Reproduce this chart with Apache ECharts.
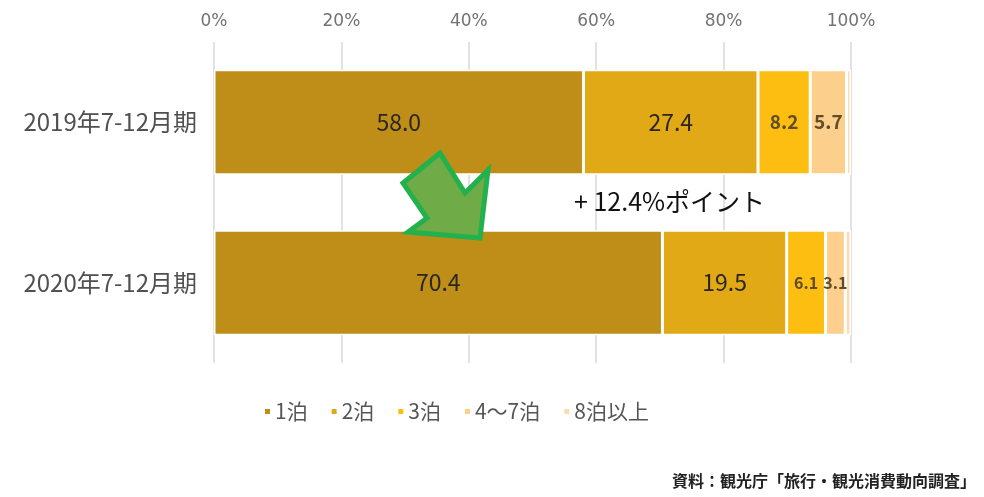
<!DOCTYPE html>
<html>
<head>
<meta charset="utf-8">
<script src="https://cdn.jsdelivr.net/npm/echarts@6/dist/echarts.min.js"></script>
<style>
  html, body { margin: 0; padding: 0; background: #fff; }
  #chart { width: 984px; height: 497px; }
</style>
</head>
<body>
<div id="chart"></div>
<script>
// Periods (top to bottom)
const periods = ['2019年7-12月期', '2020年7-12月期'];
// Length-of-stay shares (%)
const stay1 = [58.0, 70.4];
const stay2 = [27.4, 19.5];
const stay3 = [8.2, 6.1];
const stay4to7 = [5.7, 3.1];
const stay8plus = [0.7, 0.9];
const seriesNames = ['1泊', '2泊', '3泊', '4～7泊', '8泊以上'];
const xTicks = [0, 20, 40, 60, 80, 100];
const changeNote = '+ 12.4%ポイント';
const sourceNote = '資料：観光庁「旅行・観光消費動向調査」';

const colors = ['#BF8E19', '#E2A916', '#FDBD11', '#FDCF8C', '#FCDDB0'];
const FONT = '"Noto Sans CJK JP", "Noto Sans", sans-serif';
const TICK_FONT = '"DejaVu Sans", "Noto Sans CJK JP", sans-serif';

// label sizes per segment (wide segments get larger text)
const labelSizes = [[23, 23], [23, 23], [19, 16], [19, 16], [0, 0]];
const labelColors = ['#2a2620', '#2a2620', '#5e4d28', '#5e4d28', '#5e4d28'];

const allData = [stay1, stay2, stay3, stay4to7, stay8plus];

const chart = echarts.init(document.getElementById('chart'), null, { renderer: 'canvas' });

const series = allData.map((vals, i) => ({
  name: seriesNames[i],
  type: 'bar',
  stack: 'total',
  barWidth: 105,
  itemStyle: { color: colors[i], borderColor: '#fff', borderWidth: 1.5 },
  data: vals.map((v, j) => ({
    value: v,
    label: {
      show: i < 4,
      position: 'inside',
      fontSize: labelSizes[i][j],
      fontWeight: i < 2 ? 'normal' : 'bold',
      color: labelColors[i],
      fontFamily: FONT,
      formatter: (p) => p.value.toFixed(1)
    }
  })),
  emphasis: { disabled: true },
  animation: false
}));

chart.setOption({
  animation: false,
  backgroundColor: '#fff',
  grid: { left: 214, width: 637, top: 42, height: 321 },
  xAxis: {
    type: 'value',
    position: 'top',
    min: xTicks[0],
    max: xTicks[xTicks.length - 1],
    interval: 20,
    axisLine: { show: false },
    axisTick: { show: false },
    axisLabel: {
      formatter: '{value}%',
      color: '#727272',
      fontSize: 17,
      fontFamily: TICK_FONT,
      margin: 12
    },
    splitLine: { show: true, lineStyle: { color: '#d5d8de', width: 1.5 } }
  },
  yAxis: {
    type: 'category',
    data: periods,
    inverse: true,
    axisLine: { show: false },
    axisTick: { show: false },
    axisLabel: {
      color: '#505050',
      fontSize: 24,
      fontFamily: FONT,
      margin: 17
    }
  },
  legend: {
    data: seriesNames,
    left: 258,
    top: 396,
    icon: 'rect',
    itemWidth: 7,
    itemHeight: 7,
    itemGap: 22,
    textStyle: { color: '#555', fontSize: 21, fontFamily: FONT, padding: [0, 0, 0, -1] }
  },
  series: series,
  graphic: [
    {
      type: 'polygon',
      shape: {
        points: [[440, 153], [465, 193], [488, 170], [480, 238], [408, 232], [427, 218], [403, 183]]
      },
      style: { fill: '#6FAB46', stroke: '#22B14C', lineWidth: 5, lineJoin: 'miter' },
      z: 100
    },
    {
      type: 'text',
      x: 574,
      y: 201,
      style: { text: changeNote, fill: '#111', font: '25px ' + FONT, verticalAlign: 'middle' },
      z: 100
    },
    {
      type: 'text',
      right: 8,
      top: 473,
      style: { text: sourceNote, fill: '#222', font: 'bold 16px ' + FONT },
      z: 100
    }
  ]
});
</script>
</body>
</html>
